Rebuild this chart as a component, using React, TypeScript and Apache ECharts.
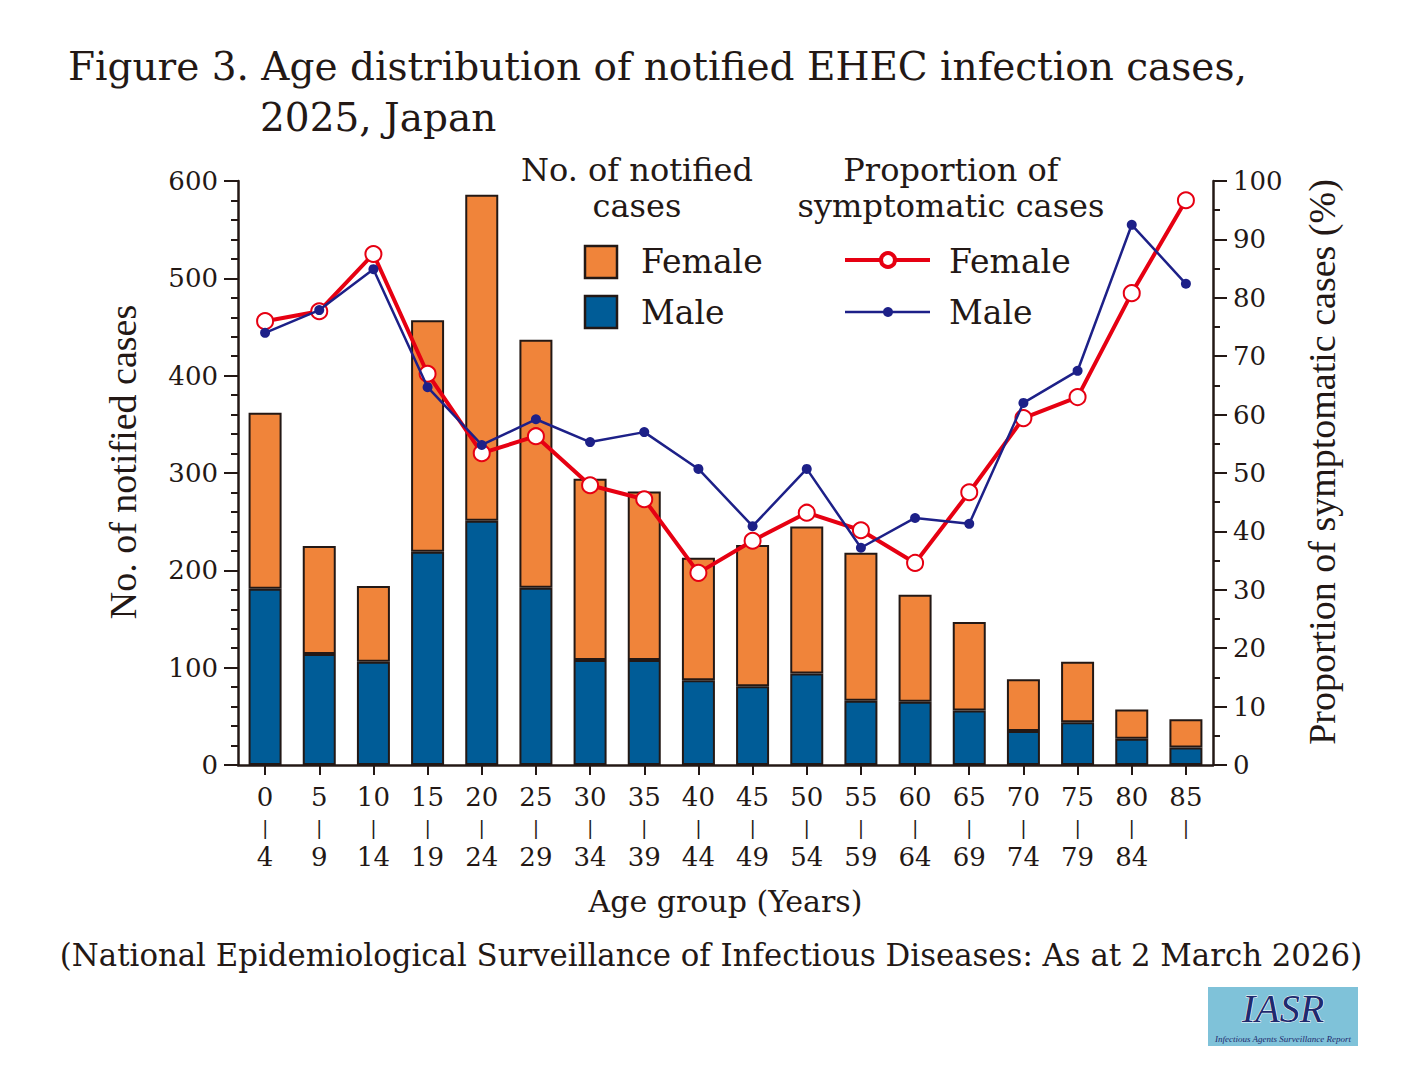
import { useEffect, useRef } from "react";
import * as echarts from "echarts";

// age groups: start / end of each band (last band is 85+)
const ageStart = ["0", "5", "10", "15", "20", "25", "30", "35", "40", "45", "50", "55", "60", "65", "70", "75", "80", "85"];
const ageEnd = ["4", "9", "14", "19", "24", "29", "34", "39", "44", "49", "54", "59", "64", "69", "74", "79", "84", ""];

// number of notified cases
const maleCases = [181, 114, 106, 219, 251, 182, 108, 108, 87, 81, 94, 66, 65, 56, 35, 44, 27, 18];
const femaleCases = [181, 111, 78, 238, 335, 255, 186, 173, 126, 145, 151, 152, 110, 91, 53, 62, 30, 29];

// proportion of symptomatic cases (%)
const femaleSymptomatic = [76.0, 77.7, 87.5, 67.0, 53.4, 56.3, 47.9, 45.5, 32.9, 38.4, 43.2, 40.2, 34.6, 46.7, 59.4, 63.0, 80.8, 96.7];
const maleSymptomatic = [74.0, 77.9, 84.9, 64.7, 54.8, 59.2, 55.3, 57.0, 50.7, 40.9, 50.7, 37.2, 42.3, 41.3, 62.0, 67.5, 92.5, 82.4];

const INK = "#231815";
const ORANGE = "#F0843A";
const BLUE = "#005C97";
const RED = "#E60012";
const NAVY = "#1D2088";
const SERIF = "'DejaVu Serif', serif";
const TIMES = "'Liberation Serif', serif";

export default function App() {
  const chartRef = useRef<HTMLDivElement>(null);

  useEffect(() => {
    if (!chartRef.current) return;
    const chart = echarts.init(chartRef.current, null, { renderer: "svg" });

    const axisLine = { show: true, lineStyle: { color: INK, width: 2.5 } };
    const txt = (x: number, y: number, text: string, size = 32, align = "left") => ({
      type: "text",
      x,
      y,
      style: { text, font: `${size}px ${SERIF}`, fill: INK, align, verticalAlign: "middle" },
    });

    const option: echarts.EChartsOption = {
      animation: false,
      backgroundColor: "#ffffff",
      textStyle: { fontFamily: SERIF, color: INK },
      grid: { left: 238, right: 215, top: 181, bottom: 315 },
      xAxis: {
        type: "category",
        data: ageStart,
        name: "Age group (Years)",
        nameLocation: "middle",
        nameGap: 121,
        nameTextStyle: { fontFamily: SERIF, fontSize: 30, color: INK },
        axisLine,
        axisTick: { show: true, alignWithLabel: true, length: 10, lineStyle: { color: INK, width: 2 } },
        axisLabel: {
          margin: 17,
          interval: 0,
          color: INK,
          formatter: (_v: string, i: number) =>
            `{n|${ageStart[i]}}\n{s||}\n{n|${ageEnd[i] || " "}}`,
          rich: {
            n: { fontFamily: SERIF, fontSize: 26, color: INK, lineHeight: 30 },
            s: { fontFamily: SERIF, fontSize: 19, color: INK, lineHeight: 30 },
          },
        },
      },
      yAxis: [
        {
          type: "value",
          min: 0,
          max: 600,
          interval: 100,
          name: "No. of notified cases",
          nameLocation: "middle",
          nameGap: 96,
          nameRotate: 90,
          nameTextStyle: { fontFamily: TIMES, fontSize: 38, color: INK, padding: [0, 0, 0, 22] },
          axisLine,
          axisTick: { show: true, length: 14, lineStyle: { color: INK, width: 2 } },
          minorTick: { show: true, splitNumber: 5, length: 7, lineStyle: { color: INK, width: 2 } },
          splitLine: { show: false },
          axisLabel: { fontFamily: SERIF, fontSize: 26, color: INK, margin: 20 },
        },
        {
          type: "value",
          min: 0,
          max: 100,
          interval: 10,
          name: "Proportion of symptomatic cases (%)",
          nameLocation: "middle",
          nameGap: 90,
          nameRotate: 90,
          nameTextStyle: { fontFamily: TIMES, fontSize: 38, color: INK, padding: [0, 0, 0, 22] },
          axisLine,
          axisTick: { show: true, length: 14, lineStyle: { color: INK, width: 2 } },
          minorTick: { show: true, splitNumber: 2, length: 7, lineStyle: { color: INK, width: 2 } },
          splitLine: { show: false },
          axisLabel: { fontFamily: SERIF, fontSize: 26, color: INK, margin: 20 },
        },
      ],
      series: [
        {
          name: "Male cases",
          type: "bar",
          stack: "cases",
          barWidth: 33,
          data: maleCases,
          itemStyle: { color: BLUE, borderColor: INK, borderWidth: 2 },
        },
        {
          name: "Female cases",
          type: "bar",
          stack: "cases",
          barWidth: 33,
          data: femaleCases,
          itemStyle: { color: ORANGE, borderColor: INK, borderWidth: 2 },
        },
        {
          name: "Female proportion",
          type: "line",
          yAxisIndex: 1,
          data: femaleSymptomatic,
          symbol: "emptyCircle",
          symbolSize: 16,
          lineStyle: { color: RED, width: 4 },
          itemStyle: { color: RED, borderColor: RED, borderWidth: 4 },
          z: 3,
        },
        {
          name: "Male proportion",
          type: "line",
          yAxisIndex: 1,
          data: maleSymptomatic,
          symbol: "circle",
          symbolSize: 10,
          lineStyle: { color: NAVY, width: 2.5 },
          itemStyle: { color: NAVY },
          z: 4,
        },
      ],
      graphic: [
        {
          type: "text",
          x: 68,
          y: 66,
          style: {
            text: "Figure 3. Age distribution of notified EHEC infection cases,",
            font: `39px ${SERIF}`,
            fill: INK,
            verticalAlign: "middle",
          },
        },
        {
          type: "text",
          x: 260,
          y: 117,
          style: { text: "2025, Japan", font: `39px ${SERIF}`, fill: INK, verticalAlign: "middle" },
        },
        // legend: bars
        txt(637, 170, "No. of notified", 32, "center"),
        txt(637, 206, "cases", 32, "center"),
        { type: "rect", shape: { x: 585, y: 246, width: 32, height: 32 }, style: { fill: ORANGE, stroke: INK, lineWidth: 2.5 } },
        txt(641, 261, "Female", 33),
        { type: "rect", shape: { x: 585, y: 296, width: 32, height: 32 }, style: { fill: BLUE, stroke: INK, lineWidth: 2.5 } },
        txt(641, 312, "Male", 33),
        // legend: lines
        txt(951, 170, "Proportion of", 32, "center"),
        txt(951, 206, "symptomatic cases", 32, "center"),
        { type: "line", shape: { x1: 845, y1: 260, x2: 930, y2: 260 }, style: { stroke: RED, lineWidth: 4 } },
        { type: "circle", shape: { cx: 888, cy: 260, r: 7 }, style: { fill: "#fff", stroke: RED, lineWidth: 4 } },
        txt(949, 261, "Female", 33),
        { type: "line", shape: { x1: 845, y1: 312, x2: 930, y2: 312 }, style: { stroke: NAVY, lineWidth: 2.5 } },
        { type: "circle", shape: { cx: 888, cy: 312, r: 5 }, style: { fill: NAVY } },
        txt(949, 312, "Male", 33),
        // source note
        txt(711, 955, "(National Epidemiological Surveillance of Infectious Diseases: As at 2 March 2026)", 30.8, "center"),
        // IASR badge
        { type: "rect", shape: { x: 1208, y: 987, width: 150, height: 59 }, style: { fill: "#7FC2D9" } },
        {
          type: "text",
          x: 1283,
          y: 1008,
          style: {
            text: "IASR",
            font: `italic 40px ${TIMES}`,
            fill: "#1F2A6E",
            align: "center",
            verticalAlign: "middle",
            stroke: "#ffffff",
            lineWidth: 1,
          },
        },
        {
          type: "text",
          x: 1283,
          y: 1039,
          style: {
            text: "Infectious Agents Surveillance Report",
            font: `italic 9px ${TIMES}`,
            fill: "#1F2A6E",
            align: "center",
            verticalAlign: "middle",
          },
        },
      ],
    };

    chart.setOption(option);
    return () => chart.dispose();
  }, []);

  return (
    <div
      ref={chartRef}
      style={{ position: "absolute", left: 0, top: 0, width: 1428, height: 1080 }}
    />
  );
}
